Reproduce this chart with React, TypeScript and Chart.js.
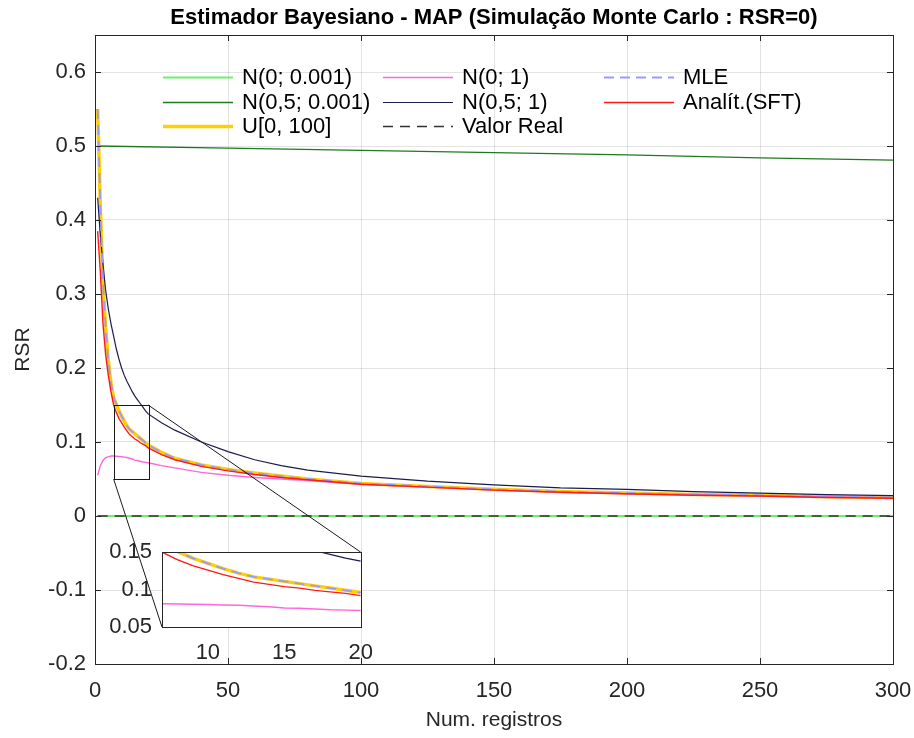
import React, { useEffect, useRef } from 'react';
import { Chart, registerables } from 'chart.js';

Chart.register(...registerables);

// ---------------- data ----------------
const REG = [1, 2, 3, 4, 5, 6, 7, 8, 9, 10, 11, 12, 13, 14, 15, 16, 17, 18, 19, 20, 25, 30, 40, 50, 60, 70, 80, 100, 125, 150, 175, 200, 225, 250, 275, 300];
const RSR_U100 = [0.55, 0.42, 0.315, 0.255, 0.21, 0.18, 0.16, 0.151, 0.142, 0.135, 0.128, 0.122, 0.117, 0.114, 0.111, 0.108, 0.105, 0.102, 0.099, 0.096, 0.086, 0.078, 0.069, 0.063, 0.058, 0.054, 0.05, 0.044, 0.04, 0.036, 0.033, 0.031, 0.029, 0.028, 0.026, 0.025];
const RSR_MLE = [0.55, 0.42, 0.315, 0.255, 0.21, 0.18, 0.16, 0.151, 0.142, 0.135, 0.128, 0.122, 0.117, 0.114, 0.111, 0.108, 0.105, 0.102, 0.099, 0.096, 0.086, 0.078, 0.069, 0.063, 0.058, 0.054, 0.05, 0.044, 0.04, 0.036, 0.033, 0.031, 0.029, 0.028, 0.026, 0.025];
const RSR_SFT = [0.385, 0.33, 0.26, 0.218, 0.19, 0.168, 0.15, 0.14, 0.132, 0.126, 0.12, 0.115, 0.11, 0.107, 0.104, 0.102, 0.099, 0.097, 0.095, 0.092, 0.083, 0.076, 0.067, 0.061, 0.056, 0.052, 0.049, 0.043, 0.039, 0.035, 0.032, 0.03, 0.028, 0.027, 0.025, 0.024];
const RSR_N0_1 = [0.055, 0.068, 0.075, 0.079, 0.08, 0.081, 0.081, 0.0808, 0.0805, 0.08, 0.0795, 0.079, 0.078, 0.077, 0.0755, 0.075, 0.074, 0.073, 0.0725, 0.072, 0.068, 0.065, 0.059, 0.055, 0.052, 0.05, 0.048, 0.043, 0.039, 0.035, 0.032, 0.03, 0.029, 0.027, 0.026, 0.025];
const RSR_N05_1 = [0.43, 0.38, 0.34, 0.305, 0.28, 0.26, 0.243, 0.226, 0.212, 0.2, 0.19, 0.182, 0.175, 0.168, 0.162, 0.157, 0.152, 0.147, 0.142, 0.138, 0.126, 0.116, 0.1, 0.087, 0.076, 0.068, 0.062, 0.054, 0.047, 0.042, 0.038, 0.036, 0.033, 0.031, 0.029, 0.0275];
const REG_LONG = [1, 50, 100, 150, 200, 250, 300];
const RSR_N05_0001 = [0.5, 0.497, 0.494, 0.491, 0.488, 0.484, 0.481];
const RSR_N0_0001 = [0, 0, 0, 0, 0, 0, 0];
const RSR_REAL = [0, 0, 0, 0, 0, 0, 0];

const X_TICKS = [0, 50, 100, 150, 200, 250, 300];
const Y_TICKS = [-0.2, -0.1, 0, 0.1, 0.2, 0.3, 0.4, 0.5, 0.6];
const INSET_X_TICKS = [10, 15, 20];
const INSET_Y_TICKS = [0.05, 0.1, 0.15];
const ZOOM_X = [7, 20];
const ZOOM_Y = [0.05, 0.15];

const TITLE = 'Estimador Bayesiano - MAP (Simulação Monte Carlo : RSR=0)';
const X_LABEL = 'Num. registros';
const Y_LABEL = 'RSR';

// ---------------- styles ----------------
const FONT = "'Liberation Sans', Arial, Helvetica, sans-serif";
const TEXT = '#262626';
const GRID = 'rgba(38,38,38,0.13)';
const INSET_LEFT = 100;
const INSET_TOP = 529;
const INSET_W = 286;
const INSET_H = 145;

type Series = { label: string; xs: number[]; ys: number[]; color: string; width: number; dash?: number[]; order: number };

const SERIES: Series[] = [
  { label: 'N(0; 0.001)', xs: REG_LONG, ys: RSR_N0_0001, color: '#6cf06c', width: 2, order: 8 },
  { label: 'N(0,5; 0.001)', xs: REG_LONG, ys: RSR_N05_0001, color: '#1f7a1f', width: 1.3, order: 7 },
  { label: 'U[0, 100]', xs: REG, ys: RSR_U100, color: '#ffcf00', width: 3.5, order: 6 },
  { label: 'N(0; 1)', xs: REG, ys: RSR_N0_1, color: '#ff66d9', width: 1.4, order: 5 },
  { label: 'N(0,5; 1)', xs: REG, ys: RSR_N05_1, color: '#1c1c4e', width: 1.2, order: 4 },
  { label: 'Valor Real', xs: REG_LONG, ys: RSR_REAL, color: '#333333', width: 1.6, dash: [10, 7], order: 3 },
  { label: 'MLE', xs: REG, ys: RSR_MLE, color: '#9999ff', width: 1.8, dash: [10, 6], order: 2 },
  { label: 'Analít.(SFT)', xs: REG, ys: RSR_SFT, color: '#ff1a1a', width: 1.4, order: 1 },
];

// legend layout: columns (line start, line end, text start), rows y
const LEG_COLS = [[163, 233, 242], [383, 453, 462], [604, 674, 683]];
const LEG_ROWS = [77, 102, 126];

function makeDatasets() {
  return SERIES.map((s) => ({
    label: s.label,
    data: s.xs.map((x, i) => ({ x, y: s.ys[i] })),
    borderColor: s.color,
    backgroundColor: s.color,
    borderWidth: s.width,
    borderDash: s.dash || [],
    pointRadius: 0,
    tension: 0,
    fill: false,
    order: s.order,
  }));
}

const tickFont = { family: FONT, size: 22 };

const boxPlugin = {
  id: 'box',
  afterDatasetsDraw(chart: any, _a: any, opts: any) {
    const { ctx, chartArea: a } = chart;
    ctx.save();
    ctx.strokeStyle = (opts && opts.color) || '#262626';
    ctx.lineWidth = 1;
    ctx.strokeRect(Math.round(a.left) + 0.5, Math.round(a.top) + 0.5, Math.round(a.right - a.left), Math.round(a.bottom - a.top));
    if (opts && opts.ticks) {
      const L = 6;
      const xs = chart.scales.x, ys = chart.scales.y;
      ctx.beginPath();
      xs.ticks.forEach((t: any) => {
        const px = Math.round(xs.getPixelForValue(t.value)) + 0.5;
        ctx.moveTo(px, a.bottom); ctx.lineTo(px, a.bottom - L);
        ctx.moveTo(px, a.top); ctx.lineTo(px, a.top + L);
      });
      ys.ticks.forEach((t: any) => {
        const py = Math.round(ys.getPixelForValue(t.value)) + 0.5;
        ctx.moveTo(a.left, py); ctx.lineTo(a.left + L, py);
        ctx.moveTo(a.right, py); ctx.lineTo(a.right - L, py);
      });
      ctx.stroke();
    }
    ctx.restore();
  },
};

const whiteBgPlugin = {
  id: 'whiteBg',
  beforeDraw(chart: any) {
    const { ctx, chartArea: a } = chart;
    ctx.save();
    ctx.fillStyle = '#ffffff';
    ctx.fillRect(a.left, a.top, a.right - a.left, a.bottom - a.top);
    ctx.restore();
  },
};

const titlePlugin = {
  id: 'mainTitle',
  afterDraw(chart: any) {
    const { ctx, chartArea: a } = chart;
    ctx.save();
    ctx.font = `bold 22px ${FONT}`;
    ctx.fillStyle = '#000';
    ctx.textAlign = 'center';
    ctx.textBaseline = 'middle';
    ctx.fillText(TITLE, (a.left + a.right) / 2, 18);
    ctx.restore();
  },
};

const legendPlugin = {
  id: 'mlegend',
  afterDatasetsDraw(chart: any) {
    const { ctx } = chart;
    ctx.save();
    chart.data.datasets.forEach((ds: any, i: number) => {
      const col = LEG_COLS[Math.floor(i / 3)];
      const y = LEG_ROWS[i % 3];
      ctx.beginPath();
      ctx.strokeStyle = ds.borderColor;
      ctx.lineWidth = ds.borderWidth;
      ctx.setLineDash(ds.borderDash || []);
      ctx.moveTo(col[0], y + 0.5);
      ctx.lineTo(col[1], y + 0.5);
      ctx.stroke();
      ctx.setLineDash([]);
      ctx.font = `22px ${FONT}`;
      ctx.fillStyle = '#000';
      ctx.textAlign = 'left';
      ctx.textBaseline = 'middle';
      ctx.fillText(ds.label, col[2], y + 1);
    });
    ctx.restore();
  },
};

function zoomPlugin(getInset: () => any) {
  return {
    id: 'zoomLines',
    afterDatasetsDraw(chart: any) {
      const inset = getInset();
      if (!inset) return;
      const { ctx } = chart;
      const x = chart.scales.x, y = chart.scales.y;
      const x1 = x.getPixelForValue(ZOOM_X[0]);
      const x2 = x.getPixelForValue(ZOOM_X[1]);
      const yTop = y.getPixelForValue(ZOOM_Y[1]);
      const yBot = y.getPixelForValue(ZOOM_Y[0]);
      const ix = inset.scales.x, iy = inset.scales.y;
      const trX = INSET_LEFT + ix.getPixelForValue(ZOOM_X[1]);
      const trY = INSET_TOP + iy.getPixelForValue(ZOOM_Y[1]);
      const blX = INSET_LEFT + ix.getPixelForValue(ZOOM_X[0]);
      const blY = INSET_TOP + iy.getPixelForValue(ZOOM_Y[0]);
      ctx.save();
      ctx.strokeStyle = '#1a1a1a';
      ctx.lineWidth = 1;
      ctx.strokeRect(Math.round(x1) + 0.5, Math.round(yTop) + 0.5, Math.round(x2 - x1), Math.round(yBot - yTop));
      ctx.beginPath();
      ctx.moveTo(x2, yTop);
      ctx.lineTo(trX, trY);
      ctx.moveTo(x1, yBot);
      ctx.lineTo(blX, blY);
      ctx.stroke();
      ctx.restore();
    },
  };
}

export default function App() {
  const mainRef = useRef<HTMLCanvasElement>(null);
  const insetRef = useRef<HTMLCanvasElement>(null);

  useEffect(() => {
    const inset = new Chart(insetRef.current as HTMLCanvasElement, {
      type: 'line',
      data: { datasets: makeDatasets() as any },
      options: {
        responsive: false,
        animation: false,
        layout: { padding: { top: 15, right: 18, left: 0, bottom: 0 } },
        plugins: { legend: { display: false }, tooltip: { enabled: false }, title: { display: false } },
        scales: {
          x: {
            type: 'linear', min: ZOOM_X[0], max: ZOOM_X[1],
            afterBuildTicks: (s: any) => { s.ticks = INSET_X_TICKS.map((v) => ({ value: v })); },
            afterFit: (s: any) => { s.height = 47; },
            grid: { display: false, drawTicks: false },
            border: { display: false },
            ticks: { font: tickFont, color: TEXT, padding: 13, maxRotation: 0, autoSkip: false, callback: (v: any) => `${v}` },
          },
          y: {
            type: 'linear', min: ZOOM_Y[0], max: ZOOM_Y[1],
            afterBuildTicks: (s: any) => { s.ticks = INSET_Y_TICKS.map((v) => ({ value: v })); },
            afterFit: (s: any) => { s.width = 62; },
            grid: { display: false, drawTicks: false },
            border: { display: false },
            ticks: { font: tickFont, color: TEXT, padding: 10, autoSkip: false, callback: (v: any) => `${v}` },
          },
        },
      } as any,
      plugins: [whiteBgPlugin, { ...boxPlugin, id: 'insetBox' }] as any,
    });

    const main = new Chart(mainRef.current as HTMLCanvasElement, {
      type: 'line',
      data: { datasets: makeDatasets() as any },
      options: {
        responsive: false,
        animation: false,
        layout: { padding: { top: 35, right: 21, left: 0, bottom: 0 } },
        plugins: {
          legend: { display: false }, tooltip: { enabled: false }, title: { display: false },
          box: { ticks: true, color: '#262626' },
        },
        scales: {
          x: {
            type: 'linear', min: 0, max: 300,
            afterBuildTicks: (s: any) => { s.ticks = X_TICKS.map((v) => ({ value: v })); },
            afterFit: (s: any) => { s.height = 74; s.paddingRight = 0; s.paddingLeft = 0; },
            grid: { color: GRID, drawTicks: false },
            border: { display: false },
            ticks: { font: tickFont, color: TEXT, padding: 14, maxRotation: 0, autoSkip: false, callback: (v: any) => `${v}` },
            title: { display: true, text: X_LABEL, font: { family: FONT, size: 21 }, color: TEXT, padding: { top: 0, bottom: 5 } },
          },
          y: {
            type: 'linear', min: -0.2, max: 0.65,
            afterBuildTicks: (s: any) => { s.ticks = Y_TICKS.map((v) => ({ value: v })); },
            afterFit: (s: any) => { s.width = 95; },
            grid: { color: GRID, drawTicks: false },
            border: { display: false },
            ticks: { font: tickFont, color: TEXT, padding: 9, autoSkip: false, callback: (v: any) => `${v}` },
            title: { display: true, text: Y_LABEL, font: { family: FONT, size: 21 }, color: TEXT, padding: { top: 11, bottom: 0 } },
          },
        },
      } as any,
      plugins: [boxPlugin, legendPlugin, titlePlugin, zoomPlugin(() => inset)] as any,
    });

    return () => {
      main.destroy();
      inset.destroy();
    };
  }, []);

  return (
    <div style={{ position: 'fixed', left: 0, top: 0, width: 914, height: 738, background: '#fff' }}>
      <canvas ref={mainRef} width={914} height={738} style={{ position: 'absolute', left: 0, top: 0 }} />
      <canvas ref={insetRef} width={INSET_W} height={INSET_H} style={{ position: 'absolute', left: INSET_LEFT, top: INSET_TOP }} />
    </div>
  );
}
